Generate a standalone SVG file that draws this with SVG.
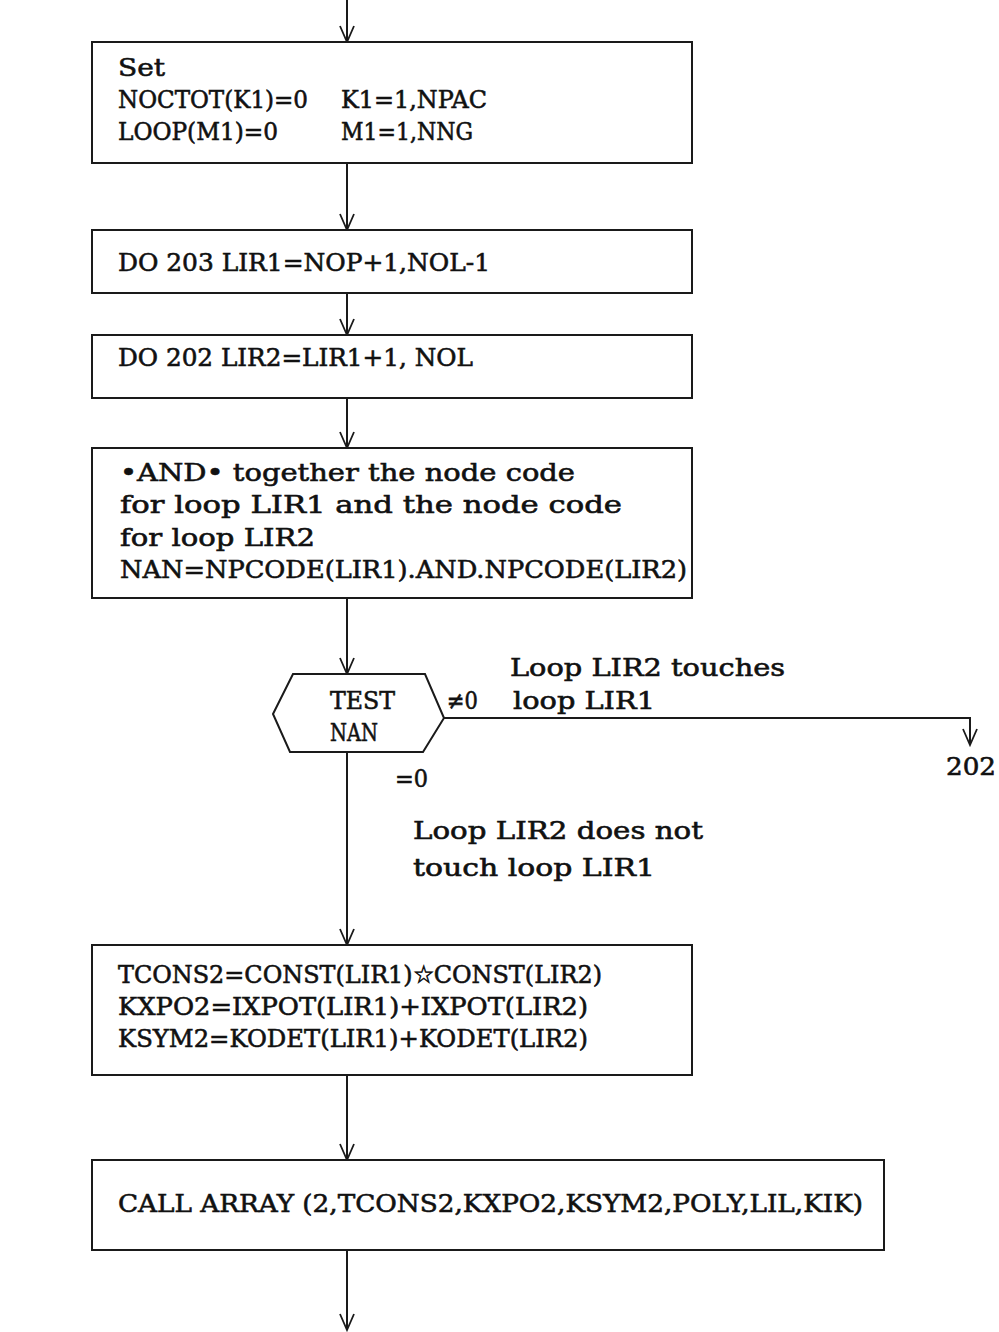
<svg xmlns="http://www.w3.org/2000/svg" width="999" height="1332" viewBox="0 0 999 1332">
<defs>
<marker id="ah" markerWidth="20" markerHeight="18" viewBox="-18 -9 20 18" refX="0" refY="0" orient="auto" markerUnits="userSpaceOnUse">
<path d="M-16,-7 L0,0 L-16,7" fill="none" stroke="#1a1a1a" stroke-width="1.8"/>
</marker>
<style>
.box{fill:#fff;stroke:#1a1a1a;stroke-width:2}
.ln{fill:none;stroke:#1a1a1a;stroke-width:2}
.t{font-family:"DejaVu Serif","Liberation Serif",serif;font-size:25px;fill:#111;stroke:#111;stroke-width:0.6}
</style>
</defs>
<rect width="999" height="1332" fill="#fff"/>
<g id="connectors">
<line class="ln" x1="347" y1="0" x2="347" y2="42" marker-end="url(#ah)"/>
<line class="ln" x1="347" y1="163" x2="347" y2="230" marker-end="url(#ah)"/>
<line class="ln" x1="347" y1="293" x2="347" y2="335" marker-end="url(#ah)"/>
<line class="ln" x1="347" y1="398" x2="347" y2="448" marker-end="url(#ah)"/>
<line class="ln" x1="347" y1="598" x2="347" y2="674" marker-end="url(#ah)"/>
<polyline class="ln" points="444,718 970,718 970,745" marker-end="url(#ah)"/>
<line class="ln" x1="347" y1="752" x2="347" y2="945" marker-end="url(#ah)"/>
<line class="ln" x1="347" y1="1075" x2="347" y2="1160" marker-end="url(#ah)"/>
<line class="ln" x1="347" y1="1250" x2="347" y2="1330" marker-end="url(#ah)"/>
<text class="t" x="447" y="709" textLength="31" lengthAdjust="spacingAndGlyphs">≠0</text>
<text class="t" x="510" y="676" textLength="275" lengthAdjust="spacingAndGlyphs">Loop LIR2 touches</text>
<text class="t" x="513" y="709" textLength="142" lengthAdjust="spacingAndGlyphs">loop LIR1</text>
<text class="t" x="946" y="775" textLength="50" lengthAdjust="spacingAndGlyphs">202</text>
<text class="t" x="395" y="787" textLength="33" lengthAdjust="spacingAndGlyphs">=0</text>
<text class="t" x="413" y="839" textLength="290" lengthAdjust="spacingAndGlyphs">Loop LIR2 does not</text>
<text class="t" x="413" y="876" textLength="242" lengthAdjust="spacingAndGlyphs">touch loop LIR1</text>
</g>
<g id="set">
<rect class="box" x="92" y="42" width="600" height="121"/>
<text class="t" x="118" y="76" textLength="47" lengthAdjust="spacingAndGlyphs">Set</text>
<text class="t" x="118" y="108" textLength="190" lengthAdjust="spacingAndGlyphs">NOCTOT(K1)=0</text>
<text class="t" x="341" y="108" textLength="146" lengthAdjust="spacingAndGlyphs">K1=1,NPAC</text>
<text class="t" x="118" y="140" textLength="160" lengthAdjust="spacingAndGlyphs">LOOP(M1)=0</text>
<text class="t" x="341" y="140" textLength="132" lengthAdjust="spacingAndGlyphs">M1=1,NNG</text>
</g>
<g id="do203">
<rect class="box" x="92" y="230" width="600" height="63"/>
<text class="t" x="118" y="271" textLength="372" lengthAdjust="spacingAndGlyphs">DO 203 LIR1=NOP+1,NOL-1</text>
</g>
<g id="do202">
<rect class="box" x="92" y="335" width="600" height="63"/>
<text class="t" x="118" y="366" textLength="355" lengthAdjust="spacingAndGlyphs">DO 202 LIR2=LIR1+1, NOL</text>
</g>
<g id="and">
<rect class="box" x="92" y="448" width="600" height="150"/>
<text class="t" x="120" y="481" textLength="455" lengthAdjust="spacingAndGlyphs">•AND• together the node code</text>
<text class="t" x="120" y="513" textLength="502" lengthAdjust="spacingAndGlyphs">for loop LIR1 and the node code</text>
<text class="t" x="120" y="546" textLength="195" lengthAdjust="spacingAndGlyphs">for loop LIR2</text>
<text class="t" x="120" y="578" textLength="567" lengthAdjust="spacingAndGlyphs">NAN=NPCODE(LIR1).AND.NPCODE(LIR2)</text>
</g>
<g id="test">
<polygon class="box" points="273,714 293,674 425,674 444,718 423,752 290,752"/>
<text class="t" x="330" y="709" textLength="65" lengthAdjust="spacingAndGlyphs">TEST</text>
<text class="t" x="330" y="741" textLength="48" lengthAdjust="spacingAndGlyphs">NAN</text>
</g>
<g id="tcons">
<rect class="box" x="92" y="945" width="600" height="130"/>
<text class="t" x="118" y="983" textLength="484" lengthAdjust="spacingAndGlyphs">TCONS2=CONST(LIR1)☆CONST(LIR2)</text>
<text class="t" x="118" y="1015" textLength="470" lengthAdjust="spacingAndGlyphs">KXPO2=IXPOT(LIR1)+IXPOT(LIR2)</text>
<text class="t" x="118" y="1047" textLength="470" lengthAdjust="spacingAndGlyphs">KSYM2=KODET(LIR1)+KODET(LIR2)</text>
</g>
<g id="call">
<rect class="box" x="92" y="1160" width="792" height="90"/>
<text class="t" x="118" y="1212" textLength="745" lengthAdjust="spacingAndGlyphs">CALL ARRAY (2,TCONS2,KXPO2,KSYM2,POLY,LIL,KIK)</text>
</g>
</svg>
